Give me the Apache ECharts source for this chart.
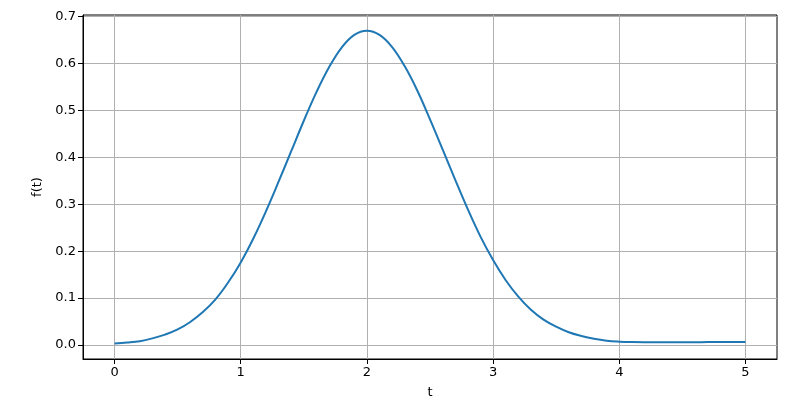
<!DOCTYPE html>
<html>
<head>
<meta charset="utf-8">
<script src="https://cdn.jsdelivr.net/npm/echarts@6/dist/echarts.min.js"></script>
<style>
  html, body { margin: 0; padding: 0; background: #fff; }
  #chart { width: 800px; height: 409px; }
</style>
</head>
<body>
<div id="chart"></div>
<script>
  // t values and f(t)
  var tValues = [0.0, 0.1, 0.2, 0.3, 0.4, 0.5, 0.6, 0.7, 0.8, 0.9,
    1.0, 1.1, 1.2, 1.3, 1.4, 1.5, 1.6, 1.7, 1.8, 1.9,
    2.0, 2.1, 2.2, 2.3, 2.4, 2.5, 2.6, 2.7, 2.8, 2.9,
    3.0, 3.1, 3.2, 3.3, 3.4, 3.5, 3.6, 3.7, 3.8, 3.9,
    4.0, 4.1, 4.2, 4.3, 4.4, 4.5, 4.6, 4.7, 4.8, 4.9, 5.0]
  var fValues = [0.003, 0.005, 0.008, 0.014, 0.022, 0.033, 0.049, 0.070, 0.097, 0.133,
    0.176, 0.227, 0.285, 0.348, 0.413, 0.478, 0.539, 0.592, 0.634, 0.661,
    0.670, 0.661, 0.635, 0.594, 0.542, 0.481, 0.417, 0.352, 0.289, 0.231,
    0.181, 0.138, 0.103, 0.075, 0.054, 0.039, 0.027, 0.019, 0.013, 0.009,
    0.007, 0.006, 0.0058, 0.0058, 0.0058, 0.0058, 0.0059, 0.006, 0.006, 0.006, 0.0062]
  var xTicks = [0, 1, 2, 3, 4, 5]
  var yTicks = [0, 0.1, 0.2, 0.3, 0.4, 0.5, 0.6, 0.7]

  var points = []
  for (var i = 0; i < tValues.length; i++) {
    points.push([tValues[i], fValues[i]])
  }

  var font = 'DejaVu Sans'
  var chart = echarts.init(document.getElementById('chart'))
  chart.setOption({
    animation: false,
    grid: {
      left: 83,
      right: 23,
      top: 15,
      bottom: 50,
      show: true,
      borderColor: '#000',
      borderWidth: 1
    },
    xAxis: {
      type: 'value',
      min: -0.25,
      max: 5.25,
      name: 't',
      nameLocation: 'middle',
      nameGap: 27,
      nameTextStyle: { fontFamily: font, fontSize: 13, color: '#000' },
      axisLine: { show: true, onZero: false, lineStyle: { color: '#000', width: 1 } },
      axisTick: { show: true, length: 5, customValues: xTicks, lineStyle: { color: '#000', width: 1 } },
      axisLabel: {
        customValues: xTicks,
        margin: 7,
        fontFamily: font,
        fontSize: 13,
        color: '#000'
      },
      splitLine: { show: true, lineStyle: { color: '#b0b0b0', width: 1 } }
    },
    yAxis: {
      type: 'value',
      min: -0.030,
      max: 0.7035,
      name: 'f(t)',
      nameLocation: 'middle',
      nameGap: 38,
      nameTextStyle: { fontFamily: font, fontSize: 13, color: '#000' },
      axisLine: { show: true, onZero: false, lineStyle: { color: '#000', width: 1 } },
      axisTick: { show: true, length: 5, customValues: yTicks, lineStyle: { color: '#000', width: 1 } },
      axisLabel: {
        customValues: yTicks,
        margin: 7,
        fontFamily: font,
        fontSize: 13,
        color: '#000',
        formatter: function (v) { return v.toFixed(1) }
      },
      splitLine: { show: true, lineStyle: { color: '#b0b0b0', width: 1 } }
    },
    series: [{
      type: 'line',
      data: points,
      showSymbol: false,
      smooth: 0.4,
      lineStyle: { color: '#1f77b4', width: 2 },
      itemStyle: { color: '#1f77b4' }
    }]
  })
</script>
</body>
</html>
